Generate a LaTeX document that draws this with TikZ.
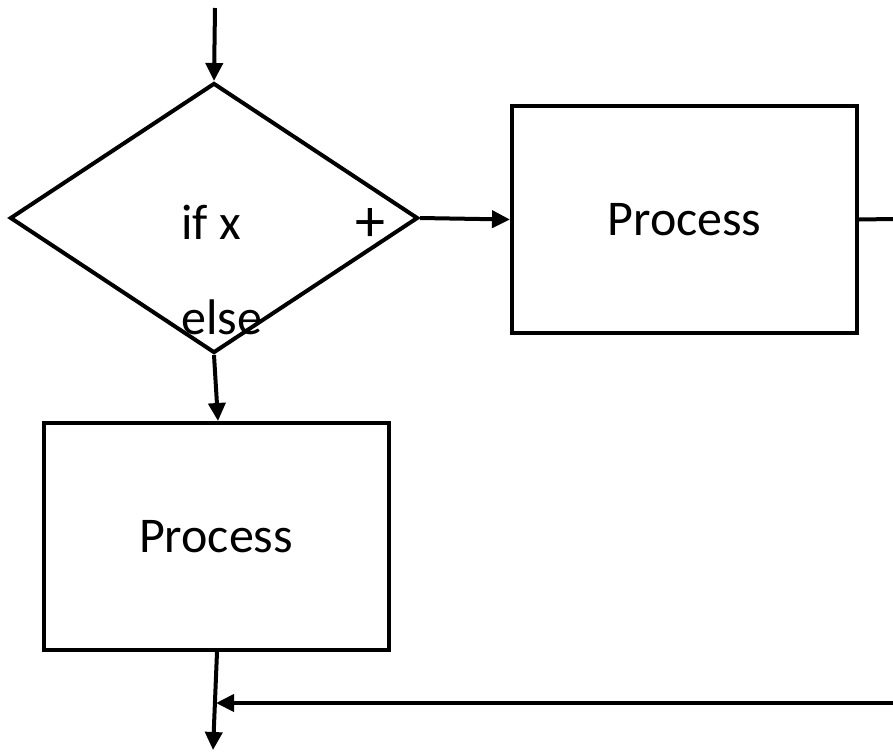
\documentclass[tikz,border=0pt]{standalone}
\usepackage{fontspec}
\setmainfont{Carlito}
\usetikzlibrary{shapes.geometric,arrows.meta}
\begin{document}
\begin{tikzpicture}[x=1pt,y=-1pt,
  line/.style={line width=4pt,draw=black},
  flow/.style={line,-{Triangle[length=18pt,width=17pt]}},
  procbox/.style={draw=black,line width=4pt,rectangle,minimum width=345pt,minimum height=227pt,inner sep=0pt,font=\fontsize{50}{60}\selectfont},
  decision/.style={draw=black,line width=4pt,diamond,minimum width=408pt,minimum height=270pt,inner sep=0pt},
  lbl/.style={font=\fontsize{50}{60}\selectfont,inner sep=0pt}]
  \useasboundingbox (0,0) rectangle (893,755);
  % decision and the two process boxes
  \node[decision] (dec) at (214,218) {};
  \node[procbox] (p1) at (684.5,219.5) {Process};
  \node[procbox] (p2) at (216,536.5) {Process};
  % labels inside the decision
  \node[lbl] (ifx) at (211,222) {if x};
  \node[lbl] (plus) at (370,225) {\fontsize{60}{60}\selectfont +};
  \node[lbl] (else) at (222,317) {else};
  % free ends of the connectors
  \coordinate (start) at (215,8);
  \coordinate (outR) at (893,219);
  \coordinate (backR) at (893,703);
  \coordinate (join) at (216,703);
  \coordinate (finish) at (213,750);
  % connectors
  \draw[flow] (start) -- (dec.north);
  \draw[flow] (dec.east) -- (p1.west);
  \draw[flow] (dec.south) -- ([xshift=2pt]p2.north);
  \draw[line] (p1.east) -- (outR);
  \draw[flow] (backR) -- (join);
  \draw[flow] ([xshift=1pt]p2.south) -- (finish);
\end{tikzpicture}
\end{document}
